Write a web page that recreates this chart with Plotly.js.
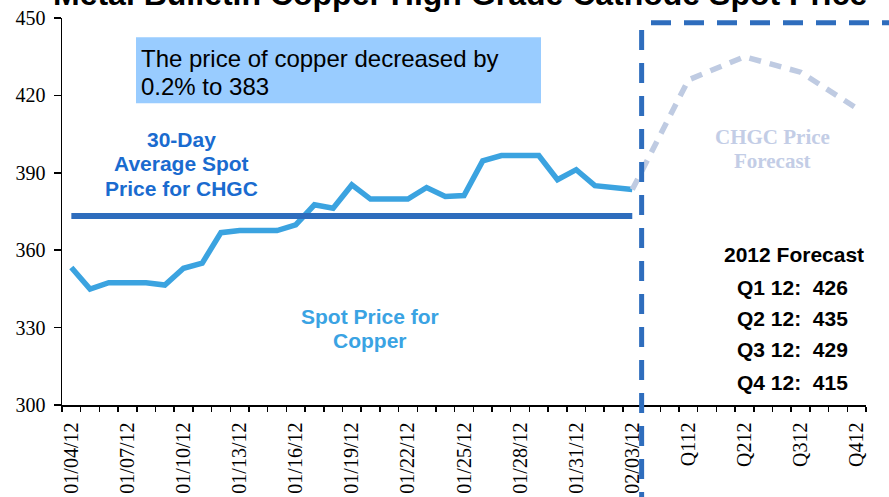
<!DOCTYPE html>
<html>
<head>
<meta charset="utf-8">
<script src="https://cdn.plot.ly/plotly-3.0.1.min.js"></script>
<style>html,body{margin:0;padding:0;background:#fff;}#chart{width:889px;height:497px;}</style>
</head>
<body>
<div id="chart"></div>
<script>
// ---- data ----
const dates = ["01/04/12","01/05/12","01/06/12","01/07/12","01/08/12","01/09/12","01/10/12","01/11/12","01/12/12","01/13/12",
  "01/14/12","01/15/12","01/16/12","01/17/12","01/18/12","01/19/12","01/20/12","01/21/12","01/22/12","01/23/12",
  "01/24/12","01/25/12","01/26/12","01/27/12","01/28/12","01/29/12","01/30/12","01/31/12","02/01/12","02/02/12","02/03/12"];
const spotPrice = [353.3,344.9,347.4,347.4,347.4,346.5,353.0,355.0,366.8,367.6,
  367.6,367.6,369.8,377.6,376.3,385.3,379.8,379.8,379.8,384.3,
  380.8,381.2,394.6,396.7,396.7,396.7,387.3,391.2,385.0,384.2,383.5];
const avgPrice = 373.3;
const quarters = ["Q112","Q212","Q312","Q412"];
const quarterNames = ["Q1 12","Q2 12","Q3 12","Q4 12"];
const forecast = [426,435,429,415];

// ---- layout helpers ----
const W = 889, H = 497, L = 62, R = 23, T = 18, B = 92;
const pw = W - L - R, ph = H - T - B;
const px = x => (x - L) / pw;
const py = y => (H - B - y) / ph;

const lastDay = dates.length - 1;
const dayX = dates.map((d, i) => i);
const qX = quarters.map((q, k) => lastDay + 3 * (k + 1));

const tickvals = [], ticktext = [];
dates.forEach((d, i) => { if (i % 3 === 0) { tickvals.push(i); ticktext.push(d); } });
quarters.forEach((q, k) => { tickvals.push(qX[k]); ticktext.push(q); });

const sans = "Liberation Sans, Arial, sans-serif";
const serif = "Liberation Serif, Times New Roman, serif";

const traces = [
  { x: dayX, y: spotPrice, mode: "lines", line: { color: "#3ba3e0", width: 5.5 }, hoverinfo: "skip" },
  { x: [dayX[0], dayX[lastDay]], y: [avgPrice, avgPrice], mode: "lines", line: { color: "#2e6dbd", width: 6 }, hoverinfo: "skip" },
  { x: [lastDay].concat(qX), y: [spotPrice[lastDay]].concat(forecast), mode: "lines",
    line: { color: "#bfcbe2", width: 5.5, dash: "12px,9px" }, hoverinfo: "skip" }
];

function ann(text, x, yBase, size, color, family, anchor) {
  return { text: text, xref: "paper", yref: "paper", x: px(x), y: py(yBase - 0.33 * size),
    xanchor: anchor || "center", yanchor: "middle", showarrow: false,
    font: { family: family || sans, size: size, color: color } };
}
const b = s => "<b>" + s + "</b>";

const annotations = [
  ann(b("Metal Bulletin Copper High Grade Cathode Spot Price"), 460, 5, 32, "#000"),
  ann("The price of copper decreased by", 139, 66.7, 24, "#000", sans, "left"),
  ann("0.2% to 383", 139, 94, 24, "#000", sans, "left"),
  ann(b("30-Day"), 181, 146.7, 21, "#1a6bcf"),
  ann(b("Average Spot"), 181, 170.7, 21, "#1a6bcf"),
  ann(b("Price for CHGC"), 181, 195, 21, "#1a6bcf"),
  ann(b("Spot Price for"), 370, 323.3, 21, "#3aa3e3"),
  ann(b("Copper"), 370, 347.7, 21, "#3aa3e3"),
  ann(b("CHGC Price"), 772, 144, 21, "#c3cde6", serif),
  ann(b("Forecast"), 772, 168.3, 21, "#c3cde6", serif),
  ann(b("2012 Forecast"), 794, 261.7, 21, "#000")
];
const qBase = [294.3, 325.7, 356.7, 389];
quarterNames.forEach((q, k) => annotations.push(ann(b(q + ":\u00a0 " + forecast[k]), 792, qBase[k], 21, "#000")));

const shapes = [
  { type: "rect", xref: "paper", yref: "paper", x0: px(136), x1: px(541), y0: py(103.3), y1: py(37.3),
    fillcolor: "#99ccff", line: { width: 0 }, layer: "below" },
  { type: "line", xref: "x", yref: "paper", x0: lastDay + 0.5, x1: lastDay + 0.5, y0: py(30), y1: py(500),
    line: { color: "#2e6dbd", width: 5, dash: "20px,13px" }, layer: "above" },
  { type: "line", xref: "paper", yref: "paper", x0: px(651), x1: px(895), y0: py(22.7), y1: py(22.7),
    line: { color: "#2e6dbd", width: 5, dash: "20px,13px" }, layer: "above" }
];

const layout = {
  width: W, height: H,
  margin: { l: L, r: R, t: T, b: B },
  paper_bgcolor: "#fff", plot_bgcolor: "#fff",
  showlegend: false,
  xaxis: {
    range: [-0.5, qX[qX.length - 1] + 0.5], showgrid: false, zeroline: false,
    showline: true, linecolor: "#000", linewidth: 1.5,
    tickmode: "array", tickvals: tickvals, ticktext: ticktext, ticks: "", tickangle: -90,
    ticklabelstandoff: 8,
    tickfont: { family: serif, size: 20, color: "#000" },
    minor: { tickmode: "linear", tick0: -0.5, dtick: 1, ticks: "outside", ticklen: 5, tickwidth: 1.5, tickcolor: "#000", showgrid: false }
  },
  yaxis: {
    range: [300, 450], showgrid: false, zeroline: false,
    showline: true, linecolor: "#000", linewidth: 1.5,
    tickmode: "array", tickvals: [300, 330, 360, 390, 420, 450],
    ticks: "outside", ticklen: 7, tickwidth: 1.5, tickcolor: "#000",
    ticklabelstandoff: 4,
    tickfont: { family: serif, size: 20, color: "#000" }
  },
  annotations: annotations,
  shapes: shapes
};

Plotly.newPlot("chart", traces, layout, { displayModeBar: false, staticPlot: true });
</script>
</body>
</html>
